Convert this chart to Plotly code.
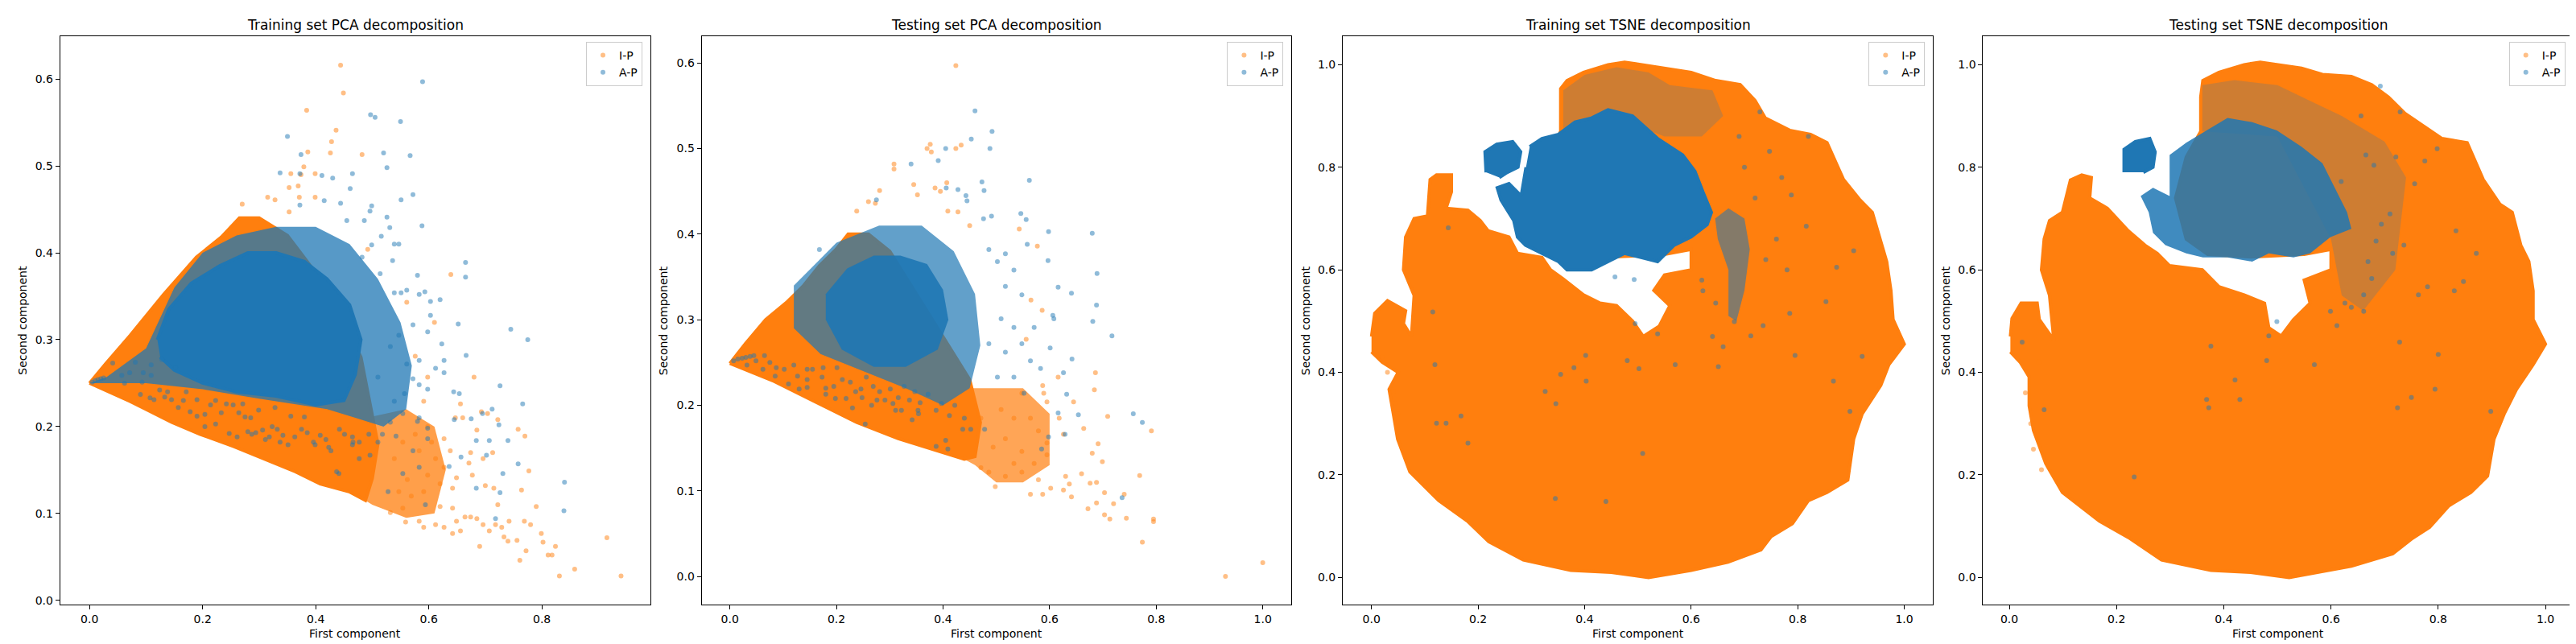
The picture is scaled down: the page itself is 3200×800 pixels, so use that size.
import plotly.graph_objects as go

ORANGE = "#ff7f0e"
BLUE = "#1f77b4"
FONT = "DejaVu Sans"

# -----------------------------
# Textos
# -----------------------------
titulos = ["Training set PCA decomposition", "Testing set PCA decomposition",
           "Training set TSNE decomposition", "Testing set TSNE decomposition"]
clases = ["I-P", "A-P"]
x_label = "First component"
y_label = "Second component"

# -----------------------------
# Panel 1: Training PCA
# (nube densa = contorno leído, resto = puntos sueltos leídos)
# -----------------------------
p1_ip_core = [(0, 0.25), (0.028, 0.272), (0.072, 0.305), (0.131, 0.352), (0.189, 0.395),
              (0.233, 0.418), (0.265, 0.44), (0.3, 0.44), (0.35, 0.42), (0.42, 0.36),
              (0.48, 0.28), (0.5, 0.21), (0.51, 0.18), (0.5, 0.14), (0.488, 0.115),
              (0.459, 0.125), (0.408, 0.134), (0.364, 0.148), (0.306, 0.163), (0.255, 0.177),
              (0.196, 0.191), (0.145, 0.205), (0.072, 0.229), (0, 0.25)]
p1_ip_mid = [(0.49, 0.21), (0.56, 0.22), (0.61, 0.2), (0.63, 0.15), (0.61, 0.1),
             (0.56, 0.095), (0.5, 0.11), (0.488, 0.115)]
p1_ip_pts = [(0.444, 0.616), (0.449, 0.584), (0.384, 0.564), (0.436, 0.541), (0.428, 0.528),
             (0.386, 0.516), (0.426, 0.515), (0.482, 0.513), (0.379, 0.499), (0.356, 0.491),
             (0.399, 0.491), (0.374, 0.49), (0.369, 0.477), (0.353, 0.475), (0.315, 0.464),
             (0.371, 0.464), (0.399, 0.464), (0.328, 0.461), (0.27, 0.456), (0.353, 0.447),
             (0.492, 0.404), (0.639, 0.375), (0.561, 0.343), (0.61, 0.32), (0.68, 0.257),
             (0.656, 0.226), (0.647, 0.21), (0.66, 0.21), (0.685, 0.196), (0.693, 0.217),
             (0.704, 0.215), (0.722, 0.208), (0.758, 0.197), (0.77, 0.189), (0.696, 0.163),
             (0.713, 0.17), (0.674, 0.17), (0.671, 0.158), (0.677, 0.144), (0.7, 0.132),
             (0.715, 0.129), (0.722, 0.11), (0.777, 0.149), (0.764, 0.127), (0.79, 0.108),
             (0.674, 0.096), (0.685, 0.094), (0.696, 0.087), (0.707, 0.08), (0.718, 0.087),
             (0.729, 0.084), (0.742, 0.091), (0.769, 0.091), (0.78, 0.087), (0.799, 0.077),
             (0.802, 0.067), (0.824, 0.062), (0.811, 0.052), (0.818, 0.052), (0.733, 0.073),
             (0.74, 0.068), (0.756, 0.069), (0.772, 0.057), (0.761, 0.046), (0.69, 0.062),
             (0.831, 0.028), (0.858, 0.036), (0.915, 0.072), (0.94, 0.028), (0.642, 0.106),
             (0.62, 0.108), (0.612, 0.087), (0.591, 0.084), (0.583, 0.091), (0.559, 0.09),
             (0.554, 0.106), (0.532, 0.101), (0.627, 0.084), (0.649, 0.091), (0.656, 0.08),
             (0.642, 0.077), (0.664, 0.096), (0.598, 0.144), (0.62, 0.134), (0.627, 0.153),
             (0.612, 0.163), (0.642, 0.129), (0.649, 0.141), (0.591, 0.125), (0.562, 0.139),
             (0.569, 0.12), (0.547, 0.125), (0.539, 0.163), (0.554, 0.182), (0.576, 0.191),
             (0.583, 0.172), (0.605, 0.182), (0.598, 0.2), (0.627, 0.186), (0.638, 0.172),
             (0.591, 0.229), (0.598, 0.257), (0.576, 0.281)]
p1_ap_mid = [(0.0, 0.25), (0.03, 0.257), (0.1, 0.29), (0.15, 0.36), (0.2, 0.4), (0.26, 0.42),
             (0.33, 0.43), (0.4, 0.43), (0.46, 0.41), (0.51, 0.37), (0.55, 0.32), (0.57, 0.27),
             (0.56, 0.22), (0.52, 0.2), (0.47, 0.21), (0.42, 0.22), (0.3, 0.232), (0.2, 0.243),
             (0.1, 0.25)]
p1_ap_core = [(0.12, 0.3), (0.14, 0.335), (0.18, 0.365), (0.23, 0.385), (0.28, 0.4),
              (0.33, 0.4), (0.38, 0.39), (0.42, 0.37), (0.46, 0.34), (0.48, 0.3),
              (0.47, 0.26), (0.45, 0.23), (0.4, 0.225), (0.33, 0.235), (0.26, 0.24),
              (0.2, 0.25), (0.15, 0.265), (0.125, 0.28)]
p1_ap_pts = [(0.589, 0.597), (0.497, 0.559), (0.505, 0.556), (0.55, 0.551), (0.35, 0.534),
             (0.374, 0.513), (0.52, 0.515), (0.567, 0.512), (0.337, 0.492), (0.372, 0.491),
             (0.411, 0.489), (0.43, 0.486), (0.465, 0.491), (0.526, 0.498), (0.461, 0.474),
             (0.572, 0.467), (0.551, 0.461), (0.415, 0.46), (0.444, 0.457), (0.499, 0.454),
             (0.496, 0.448), (0.372, 0.455), (0.588, 0.431), (0.526, 0.441), (0.531, 0.429),
             (0.486, 0.437), (0.455, 0.437), (0.539, 0.41), (0.547, 0.41), (0.516, 0.419),
             (0.499, 0.409), (0.536, 0.391), (0.482, 0.395), (0.514, 0.376), (0.665, 0.389),
             (0.665, 0.372), (0.58, 0.374), (0.551, 0.354), (0.593, 0.355), (0.62, 0.346),
             (0.561, 0.357), (0.603, 0.344), (0.539, 0.354), (0.652, 0.318), (0.745, 0.312),
             (0.775, 0.3), (0.666, 0.282), (0.623, 0.295), (0.598, 0.309), (0.572, 0.317),
             (0.627, 0.276), (0.612, 0.267), (0.583, 0.276), (0.561, 0.272), (0.627, 0.262),
             (0.644, 0.24), (0.654, 0.238), (0.726, 0.247), (0.766, 0.226), (0.712, 0.22),
             (0.695, 0.215), (0.645, 0.208), (0.724, 0.202), (0.675, 0.209), (0.684, 0.184),
             (0.707, 0.184), (0.74, 0.184), (0.702, 0.167), (0.657, 0.165), (0.636, 0.154),
             (0.758, 0.157), (0.731, 0.146), (0.684, 0.129), (0.726, 0.124), (0.84, 0.136),
             (0.839, 0.103), (0.718, 0.094), (0.598, 0.186), (0.598, 0.198), (0.58, 0.206),
             (0.554, 0.215), (0.539, 0.229), (0.557, 0.238), (0.583, 0.248), (0.598, 0.243),
             (0.572, 0.255), (0.532, 0.205), (0.518, 0.191), (0.542, 0.189), (0.572, 0.172),
             (0.583, 0.153), (0.554, 0.146), (0.528, 0.125), (0.594, 0.11), (0.51, 0.182),
             (0.496, 0.167), (0.466, 0.182), (0.441, 0.146), (0.583, 0.352), (0.603, 0.328),
             (0.532, 0.292), (0.547, 0.305), (0.51, 0.257), (0.583, 0.21),
             (0.005, 0.251), (0.01, 0.253), (0.015, 0.254), (0.02, 0.255), (0.025, 0.256),
             # puntos azules sobre la franja naranja inferior
             (0.041, 0.273), (0.057, 0.259), (0.071, 0.262), (0.095, 0.262), (0.109, 0.259),
             (0.093, 0.251), (0.107, 0.233), (0.124, 0.242), (0.138, 0.24), (0.133, 0.234),
             (0.145, 0.231), (0.166, 0.23), (0.178, 0.217), (0.19, 0.212), (0.204, 0.214),
             (0.214, 0.225), (0.233, 0.216), (0.242, 0.226), (0.254, 0.225), (0.264, 0.216),
             (0.275, 0.211), (0.285, 0.21), (0.294, 0.193), (0.306, 0.196), (0.311, 0.185),
             (0.323, 0.2), (0.332, 0.197), (0.342, 0.19), (0.351, 0.179), (0.363, 0.188),
             (0.375, 0.197), (0.385, 0.193), (0.396, 0.182), (0.408, 0.19), (0.418, 0.185),
             (0.427, 0.172), (0.442, 0.197), (0.451, 0.191), (0.465, 0.188), (0.477, 0.182),
             (0.494, 0.191), (0.437, 0.148), (0.477, 0.163), (0.38, 0.211), (0.356, 0.212),
             (0.328, 0.222), (0.299, 0.219), (0.271, 0.226), (0.223, 0.23), (0.204, 0.2),
             (0.223, 0.203), (0.247, 0.192), (0.28, 0.194), (0.171, 0.24), (0.19, 0.231),
             (0.157, 0.222), (0.114, 0.231), (0.09, 0.237), (0.062, 0.25), (0.081, 0.274),
             (0.109, 0.271), (0.128, 0.277), (0.152, 0.268), (0.261, 0.188), (0.287, 0.191),
             (0.318, 0.188), (0.337, 0.182), (0.399, 0.179), (0.423, 0.176), (0.465, 0.179)]

# -----------------------------
# Panel 2: Testing PCA
# -----------------------------
p2_ip_core = [(0, 0.249), (0.029, 0.272), (0.067, 0.3), (0.106, 0.32), (0.137, 0.339),
              (0.168, 0.363), (0.199, 0.382), (0.222, 0.4), (0.26, 0.4), (0.3, 0.38),
              (0.38, 0.3), (0.45, 0.23), (0.47, 0.18), (0.46, 0.14), (0.44, 0.137),
              (0.393, 0.146), (0.316, 0.161), (0.238, 0.18), (0.16, 0.204), (0.083, 0.228), (0, 0.249)]
p2_ip_mid = [(0.44, 0.22), (0.55, 0.22), (0.6, 0.19), (0.6, 0.13), (0.55, 0.11), (0.5, 0.11),
             (0.46, 0.13), (0.44, 0.137)]
p2_ip_pts = [(0.424, 0.597), (0.376, 0.505), (0.424, 0.5), (0.434, 0.504), (0.37, 0.5),
             (0.378, 0.496), (0.308, 0.482), (0.308, 0.476), (0.281, 0.451), (0.345, 0.458),
             (0.352, 0.446), (0.385, 0.454), (0.407, 0.46), (0.395, 0.45), (0.409, 0.427),
             (0.238, 0.427), (0.26, 0.438), (0.273, 0.436), (0.428, 0.426), (0.45, 0.41),
             (0.543, 0.406), (0.577, 0.386), (0.565, 0.323), (0.586, 0.311), (0.556, 0.277),
             (0.686, 0.238), (0.684, 0.218), (0.616, 0.233), (0.589, 0.214), (0.645, 0.204),
             (0.709, 0.187), (0.791, 0.17), (0.664, 0.173), (0.626, 0.166), (0.595, 0.156),
             (0.691, 0.155), (0.68, 0.144), (0.699, 0.134), (0.769, 0.118), (0.63, 0.117),
             (0.66, 0.12), (0.676, 0.109), (0.688, 0.11), (0.703, 0.098), (0.672, 0.079),
             (0.688, 0.086), (0.703, 0.072), (0.713, 0.067), (0.72, 0.085), (0.744, 0.068),
             (0.74, 0.096), (0.774, 0.04), (0.795, 0.067), (0.795, 0.064), (0.93, 0.0),
             (1.0, 0.016), (0.602, 0.103), (0.587, 0.096), (0.564, 0.096), (0.637, 0.108),
             (0.641, 0.093), (0.626, 0.101), (0.579, 0.113), (0.548, 0.122), (0.533, 0.132),
             (0.517, 0.117), (0.498, 0.105), (0.486, 0.122), (0.471, 0.127), (0.571, 0.132),
             (0.595, 0.142), (0.548, 0.146), (0.517, 0.161), (0.494, 0.151), (0.533, 0.185),
             (0.564, 0.185), (0.579, 0.17), (0.618, 0.185), (0.509, 0.195), (0.471, 0.185),
             (0.548, 0.214), (0.595, 0.204), (0.587, 0.223)]
p2_ap_mid = [(0.12, 0.34), (0.2, 0.39), (0.28, 0.41), (0.36, 0.41), (0.42, 0.38), (0.46, 0.33),
             (0.47, 0.27), (0.45, 0.22), (0.4, 0.2), (0.33, 0.22), (0.25, 0.24), (0.17, 0.26),
             (0.12, 0.29)]
p2_ap_core = [(0.18, 0.33), (0.22, 0.36), (0.27, 0.375), (0.32, 0.375), (0.37, 0.365), (0.4, 0.335),
              (0.41, 0.3), (0.39, 0.265), (0.33, 0.245), (0.27, 0.245), (0.21, 0.265), (0.18, 0.3)]
p2_ap_pts = [(0.46, 0.544), (0.453, 0.511), (0.492, 0.52), (0.488, 0.5), (0.405, 0.5),
             (0.391, 0.486), (0.34, 0.482), (0.562, 0.463), (0.473, 0.461), (0.477, 0.451),
             (0.406, 0.454), (0.428, 0.452), (0.443, 0.445), (0.445, 0.439), (0.491, 0.421),
             (0.476, 0.418), (0.546, 0.424), (0.556, 0.417), (0.598, 0.403), (0.68, 0.401),
             (0.558, 0.388), (0.597, 0.369), (0.616, 0.338), (0.689, 0.354), (0.641, 0.331),
             (0.688, 0.317), (0.681, 0.298), (0.717, 0.281), (0.606, 0.305), (0.608, 0.301),
             (0.601, 0.267), (0.642, 0.254), (0.626, 0.238), (0.583, 0.243), (0.632, 0.213),
             (0.654, 0.189), (0.757, 0.19), (0.774, 0.18), (0.616, 0.191), (0.598, 0.163),
             (0.629, 0.166), (0.585, 0.149), (0.736, 0.092), (0.552, 0.214), (0.564, 0.252),
             (0.548, 0.272), (0.533, 0.291), (0.571, 0.291), (0.548, 0.329), (0.517, 0.339),
             (0.533, 0.358), (0.502, 0.368), (0.517, 0.377), (0.486, 0.382), (0.509, 0.301),
             (0.486, 0.272), (0.517, 0.262), (0.502, 0.233), (0.533, 0.233), (0.44, 0.185),
             (0.409, 0.149), (0.254, 0.178), (0.23, 0.197), (0.354, 0.19), (0.145, 0.221),
             (0.275, 0.44), (0.168, 0.382), (0.007, 0.252), (0.015, 0.254), (0.023, 0.255),
             (0.03, 0.256), (0.038, 0.257), (0.045, 0.258),
             # puntos azules sobre la franja naranja inferior
             (0.032, 0.247), (0.049, 0.252), (0.065, 0.258), (0.075, 0.25), (0.087, 0.244),
             (0.102, 0.242), (0.12, 0.247), (0.127, 0.234), (0.145, 0.23), (0.155, 0.242),
             (0.173, 0.233), (0.18, 0.22), (0.195, 0.222), (0.211, 0.23), (0.226, 0.227),
             (0.236, 0.216), (0.246, 0.219), (0.256, 0.233), (0.269, 0.222), (0.281, 0.216),
             (0.291, 0.206), (0.306, 0.202), (0.322, 0.194), (0.301, 0.219), (0.316, 0.209),
             (0.337, 0.206), (0.347, 0.216), (0.357, 0.203), (0.372, 0.213), (0.387, 0.194),
             (0.397, 0.202), (0.412, 0.188), (0.422, 0.2), (0.342, 0.183), (0.437, 0.172),
             (0.452, 0.172), (0.478, 0.172), (0.405, 0.159), (0.387, 0.152), (0.198, 0.208),
             (0.18, 0.213), (0.13, 0.219), (0.11, 0.225), (0.085, 0.234), (0.062, 0.242),
             (0.145, 0.242), (0.175, 0.244), (0.201, 0.244), (0.276, 0.206), (0.248, 0.209),
             (0.218, 0.208), (0.266, 0.2), (0.327, 0.222), (0.353, 0.194), (0.311, 0.194)]

# -----------------------------
# Panel 3: Training TSNE
# -----------------------------
p3_ip_core = [(0.0, 0.47), (0.006, 0.515), (0.03, 0.54), (0.064, 0.52), (0.06, 0.495), (0.075, 0.47),
              (0.08, 0.55), (0.06, 0.6), (0.064, 0.664), (0.08, 0.7), (0.105, 0.705), (0.11, 0.776),
              (0.122, 0.785), (0.15, 0.785), (0.15, 0.752), (0.14, 0.72), (0.181, 0.716),
              (0.204, 0.696), (0.219, 0.676), (0.258, 0.664), (0.274, 0.632), (0.32, 0.624),
              (0.336, 0.6), (0.359, 0.583), (0.398, 0.551), (0.429, 0.535), (0.46, 0.53),
              (0.49, 0.5), (0.51, 0.47), (0.54, 0.49), (0.56, 0.53), (0.53, 0.56), (0.55, 0.59),
              (0.6, 0.6), (0.6, 0.64), (0.55, 0.63), (0.45, 0.625), (0.37, 0.625), (0.33, 0.66),
              (0.31, 0.74), (0.33, 0.82), (0.355, 0.87), (0.355, 0.953), (0.367, 0.969),
              (0.398, 0.985), (0.444, 1.0), (0.475, 1.005), (0.553, 0.993), (0.6, 0.985),
              (0.646, 0.969), (0.692, 0.961), (0.72, 0.93), (0.739, 0.896), (0.785, 0.872),
              (0.824, 0.864), (0.855, 0.848), (0.886, 0.776), (0.917, 0.736), (0.94, 0.712),
              (0.956, 0.655), (0.967, 0.616), (0.975, 0.559), (0.979, 0.503), (1.0, 0.455),
              (0.971, 0.415), (0.956, 0.375), (0.921, 0.319), (0.905, 0.27), (0.894, 0.19),
              (0.855, 0.166), (0.82, 0.15), (0.79, 0.105), (0.75, 0.08), (0.731, 0.054),
              (0.669, 0.03), (0.6, 0.014), (0.52, 0.0), (0.45, 0.01), (0.374, 0.014),
              (0.285, 0.034), (0.22, 0.07), (0.18, 0.11), (0.126, 0.15), (0.072, 0.206),
              (0.049, 0.27), (0.041, 0.319), (0.033, 0.367), (0.05, 0.4), (0.02, 0.42), (0.0, 0.44)]
p3_ip_pts = [(0.041, 0.363), (0.049, 0.319), (0.03, 0.4), (0.045, 0.34), (0.02, 0.43)]
p3_ap_mid = [(0.36, 0.87), (0.36, 0.95), (0.4, 0.98), (0.46, 0.995), (0.52, 0.985), (0.56, 0.96),
             (0.64, 0.95), (0.66, 0.9), (0.62, 0.86), (0.55, 0.86), (0.45, 0.9)]
p3_ap_streak = [(0.645, 0.7), (0.67, 0.72), (0.7, 0.7), (0.71, 0.64), (0.7, 0.56), (0.685, 0.5),
                (0.67, 0.51), (0.67, 0.6), (0.65, 0.66)]
p3_ap_core = [(0.297, 0.84), (0.32, 0.856), (0.351, 0.864), (0.382, 0.888), (0.413, 0.896),
              (0.444, 0.912), (0.49, 0.9), (0.537, 0.856), (0.584, 0.824), (0.607, 0.792),
              (0.622, 0.752), (0.638, 0.712), (0.63, 0.688), (0.6, 0.664), (0.568, 0.648),
              (0.537, 0.616), (0.506, 0.624), (0.475, 0.632), (0.444, 0.616), (0.413, 0.6),
              (0.367, 0.6), (0.351, 0.616), (0.289, 0.648), (0.274, 0.664), (0.267, 0.696),
              (0.243, 0.736), (0.236, 0.76), (0.258, 0.768), (0.281, 0.744), (0.29, 0.8)]
p3_ap_blob = [(0.215, 0.79), (0.213, 0.83), (0.235, 0.845), (0.265, 0.85), (0.28, 0.83),
              (0.275, 0.8), (0.255, 0.79), (0.24, 0.78)]
p3_ap_pts = [(0.729, 0.908), (0.747, 0.831), (0.82, 0.86), (0.788, 0.746), (0.816, 0.685),
             (0.873, 0.605), (0.905, 0.637), (0.853, 0.538), (0.785, 0.515), (0.735, 0.491),
             (0.712, 0.471), (0.681, 0.499), (0.646, 0.535), (0.622, 0.559), (0.795, 0.433),
             (0.867, 0.383), (0.898, 0.324), (0.921, 0.431), (0.651, 0.411), (0.57, 0.415),
             (0.48, 0.423), (0.502, 0.407), (0.403, 0.383), (0.402, 0.433), (0.355, 0.396),
             (0.38, 0.409), (0.326, 0.363), (0.346, 0.339), (0.168, 0.315), (0.122, 0.301),
             (0.14, 0.301), (0.181, 0.262), (0.115, 0.518), (0.144, 0.682), (0.119, 0.415),
             (0.509, 0.242), (0.345, 0.154), (0.44, 0.148), (0.495, 0.495), (0.537, 0.475),
             (0.493, 0.581), (0.457, 0.586), (0.74, 0.62), (0.76, 0.66), (0.78, 0.6),
             (0.72, 0.74), (0.77, 0.78), (0.7, 0.8), (0.69, 0.86), (0.62, 0.58), (0.64, 0.47),
             (0.66, 0.45)]

# -----------------------------
# Panel 4: Testing TSNE
# -----------------------------
p4_ip_core = [(0.002, 0.47), (0.005, 0.505), (0.022, 0.535), (0.052, 0.535), (0.056, 0.503),
              (0.083, 0.463), (0.075, 0.55), (0.06, 0.6), (0.065, 0.66), (0.075, 0.696),
              (0.099, 0.712), (0.114, 0.775), (0.135, 0.785), (0.153, 0.78), (0.15, 0.74),
              (0.183, 0.72), (0.222, 0.676), (0.253, 0.648), (0.276, 0.632), (0.299, 0.608),
              (0.36, 0.6), (0.391, 0.567), (0.438, 0.551), (0.476, 0.535), (0.484, 0.487),
              (0.507, 0.471), (0.53, 0.503), (0.561, 0.535), (0.55, 0.58), (0.6, 0.6),
              (0.6, 0.64), (0.55, 0.63), (0.45, 0.625), (0.37, 0.63), (0.33, 0.66), (0.31, 0.74),
              (0.33, 0.82), (0.357, 0.87), (0.357, 0.937), (0.361, 0.969), (0.391, 0.985),
              (0.438, 1.0), (0.468, 1.005), (0.545, 0.993), (0.584, 0.981), (0.638, 0.977),
              (0.676, 0.961), (0.707, 0.937), (0.738, 0.905), (0.784, 0.872), (0.807, 0.856),
              (0.854, 0.848), (0.884, 0.776), (0.915, 0.728), (0.938, 0.712), (0.954, 0.648),
              (0.969, 0.616), (0.977, 0.559), (0.977, 0.503), (1.0, 0.455), (0.977, 0.415),
              (0.946, 0.367), (0.923, 0.319), (0.904, 0.27), (0.892, 0.198), (0.861, 0.166),
              (0.82, 0.14), (0.784, 0.098), (0.75, 0.075), (0.715, 0.046), (0.638, 0.022),
              (0.522, 0.0), (0.45, 0.01), (0.376, 0.014), (0.284, 0.034), (0.222, 0.078),
              (0.168, 0.11), (0.099, 0.166), (0.068, 0.222), (0.045, 0.287), (0.037, 0.335),
              (0.037, 0.391), (0.02, 0.42), (0.002, 0.44)]
p4_ip_pts = [(0.04, 0.3), (0.03, 0.36), (0.045, 0.25), (0.06, 0.21), (0.055, 0.42)]
p4_ap_mid = [(0.36, 0.87), (0.36, 0.96), (0.42, 0.97), (0.5, 0.96), (0.56, 0.93), (0.62, 0.9),
             (0.7, 0.85), (0.74, 0.78), (0.72, 0.6), (0.66, 0.52), (0.62, 0.55), (0.6, 0.66),
             (0.5, 0.86)]
p4_ap_core = [(0.299, 0.824), (0.33, 0.848), (0.368, 0.872), (0.407, 0.896), (0.453, 0.888),
              (0.499, 0.872), (0.545, 0.84), (0.584, 0.808), (0.607, 0.76), (0.63, 0.712),
              (0.638, 0.68), (0.599, 0.664), (0.561, 0.632), (0.53, 0.624), (0.484, 0.632),
              (0.453, 0.616), (0.407, 0.624), (0.361, 0.624), (0.33, 0.632), (0.291, 0.648),
              (0.268, 0.672), (0.26, 0.712), (0.245, 0.744), (0.268, 0.76), (0.299, 0.744),
              (0.299, 0.792)]
p4_ap_blob = [(0.214, 0.79), (0.214, 0.835), (0.235, 0.85), (0.262, 0.856), (0.272, 0.83),
              (0.268, 0.8), (0.25, 0.79)]
p4_ap_pts = [(0.692, 0.958), (0.729, 0.908), (0.656, 0.9), (0.798, 0.836), (0.775, 0.812),
             (0.721, 0.82), (0.68, 0.804), (0.756, 0.768), (0.71, 0.709), (0.694, 0.689),
             (0.684, 0.656), (0.715, 0.632), (0.736, 0.648), (0.833, 0.676), (0.871, 0.632),
             (0.847, 0.577), (0.83, 0.559), (0.78, 0.567), (0.763, 0.551), (0.669, 0.616),
             (0.676, 0.583), (0.661, 0.551), (0.638, 0.527), (0.626, 0.535), (0.599, 0.519),
             (0.661, 0.519), (0.611, 0.491), (0.569, 0.415), (0.499, 0.499), (0.484, 0.471),
             (0.48, 0.423), (0.421, 0.385), (0.376, 0.451), (0.368, 0.347), (0.372, 0.331),
             (0.43, 0.347), (0.728, 0.459), (0.8, 0.435), (0.794, 0.367), (0.75, 0.351),
             (0.724, 0.331), (0.898, 0.324), (0.065, 0.327), (0.024, 0.459), (0.233, 0.196),
             (0.665, 0.824), (0.619, 0.772)]

# -----------------------------
# Ejes (rangos y ticks leídos)
# -----------------------------
x_rangos = [[-0.052, 0.992], [-0.053, 1.054], [-0.054, 1.054], [-0.049, 1.052]]
y_rangos = [[-0.005, 0.649], [-0.033, 0.631], [-0.053, 1.055], [-0.053, 1.055]]
x_ticks = [[0, 0.2, 0.4, 0.6, 0.8], [0, 0.2, 0.4, 0.6, 0.8, 1.0],
           [0, 0.2, 0.4, 0.6, 0.8, 1.0], [0, 0.2, 0.4, 0.6, 0.8, 1.0]]
y_ticks = [[0, 0.1, 0.2, 0.3, 0.4, 0.5, 0.6], [0, 0.1, 0.2, 0.3, 0.4, 0.5, 0.6],
           [0, 0.2, 0.4, 0.6, 0.8, 1.0], [0, 0.2, 0.4, 0.6, 0.8, 1.0]]

# posiciones en píxeles de cada panel (izq, der) y del texto del eje y
W, H = 3200, 800
paneles_px = [(66.7, 800.0), (863.6, 1596.4), (1660.0, 2393.3), (2455.4, 3188.7)]
ylabel_px = [20.5, 816.0, 1614.0, 2409.0]
top_px, bot_px = 37.4, 745.0


def xs(pares):
    return [p[0] for p in pares]


def ys(pares):
    return [p[1] for p in pares]


def nube(fig, pares, color, n, ancho=4):
    fig.add_trace(go.Scatter(
        x=xs(pares), y=ys(pares), mode="lines", fill="toself",
        fillcolor=color, line=dict(color=color, width=ancho),
        hoverinfo="skip", showlegend=False, xaxis=f"x{n}", yaxis=f"y{n}"))


def puntos(fig, pares, color, nombre, n):
    fig.add_trace(go.Scatter(
        x=xs(pares), y=ys(pares), mode="markers", name=nombre,
        marker=dict(color=color, size=6, opacity=0.5, line=dict(width=0)),
        xaxis=f"x{n}", yaxis=f"y{n}", legend="legend" if n == 1 else f"legend{n}"))


def azul(a):
    return f"rgba(31,119,180,{a})"


def naranja(a):
    return f"rgba(255,127,14,{a})"


fig = go.Figure()

# Panel 1
nube(fig, p1_ip_mid, naranja(0.75), 1, 0)
nube(fig, p1_ip_core, ORANGE, 1)
puntos(fig, p1_ip_pts, ORANGE, clases[0], 1)
nube(fig, p1_ap_mid, azul(0.75), 1, 0)
nube(fig, p1_ap_core, BLUE, 1)
puntos(fig, p1_ap_pts, BLUE, clases[1], 1)

# Panel 2
nube(fig, p2_ip_mid, naranja(0.7), 2, 0)
nube(fig, p2_ip_core, ORANGE, 2)
puntos(fig, p2_ip_pts, ORANGE, clases[0], 2)
nube(fig, p2_ap_mid, azul(0.7), 2, 0)
nube(fig, p2_ap_core, azul(0.9), 2, 0)
puntos(fig, p2_ap_pts, BLUE, clases[1], 2)

# Panel 3
nube(fig, p3_ip_core, ORANGE, 3)
puntos(fig, p3_ip_pts, ORANGE, clases[0], 3)
nube(fig, p3_ap_mid, azul(0.22), 3, 0)
nube(fig, p3_ap_streak, azul(0.55), 3, 0)
nube(fig, p3_ap_core, BLUE, 3)
nube(fig, p3_ap_blob, BLUE, 3)
puntos(fig, p3_ap_pts, BLUE, clases[1], 3)

# Panel 4
nube(fig, p4_ip_core, ORANGE, 4)
puntos(fig, p4_ip_pts, ORANGE, clases[0], 4)
nube(fig, p4_ap_mid, azul(0.22), 4, 0)
nube(fig, p4_ap_core, azul(0.85), 4, 0)
nube(fig, p4_ap_blob, BLUE, 4)
puntos(fig, p4_ap_pts, BLUE, clases[1], 4)

layout = dict(
    width=W, height=H, margin=dict(l=0, r=0, t=0, b=0),
    paper_bgcolor="white", plot_bgcolor="white",
    font=dict(family=FONT, size=14, color="black"),
    annotations=[],
)
ydom = [(H - bot_px) / H, (H - top_px) / H]
for i in range(4):
    n = i + 1
    sfx = "" if n == 1 else str(n)
    x0, x1 = paneles_px[i]
    eje = dict(showline=True, linecolor="black", linewidth=1, mirror=True,
               ticks="outside", ticklen=5, tickwidth=1, tickcolor="black",
               showgrid=False, zeroline=False, tickformat=".1f",
               tickfont=dict(family=FONT, size=14, color="black"))
    layout["xaxis" + sfx] = dict(eje, domain=[x0 / W, x1 / W], range=x_rangos[i],
                                 tickvals=x_ticks[i], anchor="y" + sfx)
    layout["yaxis" + sfx] = dict(eje, domain=ydom, range=y_rangos[i],
                                 tickvals=y_ticks[i], anchor="x" + sfx)
    layout["legend" if n == 1 else f"legend{n}"] = dict(
        x=(x1 - 10) / W, y=(H - 44) / H, xanchor="right", yanchor="top",
        bgcolor="rgba(255,255,255,0.8)", bordercolor="#cccccc", borderwidth=1,
        font=dict(family=FONT, size=14, color="black"), traceorder="normal",
        itemwidth=30, tracegroupgap=0)
    cx = (x0 + x1) / 2 / W
    layout["annotations"] += [
        dict(text=titulos[i], x=cx, y=(H - 23) / H, xref="paper", yref="paper",
             showarrow=False, font=dict(family=FONT, size=17, color="black"),
             xanchor="center", yanchor="middle"),
        dict(text=x_label, x=cx, y=(H - 781) / H, xref="paper", yref="paper",
             showarrow=False, font=dict(family=FONT, size=14, color="black"),
             xanchor="center", yanchor="middle"),
        dict(text=y_label, x=ylabel_px[i] / W, y=(ydom[0] + ydom[1]) / 2, xref="paper",
             yref="paper", showarrow=False, textangle=-90,
             font=dict(family=FONT, size=14, color="black"),
             xanchor="center", yanchor="middle"),
    ]

fig.update_layout(**layout)
fig.write_html("out.html")
